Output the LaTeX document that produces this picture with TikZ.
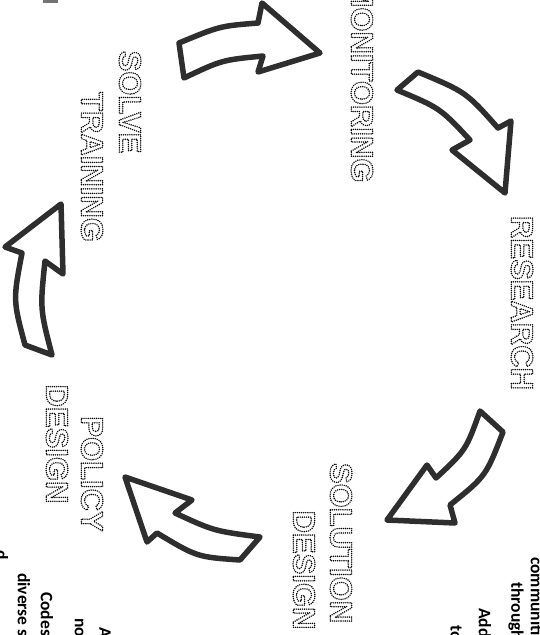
\documentclass[tikz,border=0pt]{standalone}
\usepackage{fontspec}
\setmainfont{Liberation Sans}
\newfontfamily\bodyfont{Carlito}
\newcommand\outlinetext[1]{\special{pdf:literal direct 1 Tr 1.6 w 1 J 1 j [0 2.1] 0 d}#1\special{pdf:literal direct 0 Tr 0.4 w 0 J 0 j [] 0 d}}
\tikzset{
  blockarrow/.style={draw=black!82, line width=5.5pt, line join=round, fill=white},
  stagetext/.style={rotate=-90, inner sep=0pt, font=\bfseries\fontsize{31}{31}\selectfont},
  bodytxt/.style={rotate=-90, anchor=west, inner sep=0pt, font=\bodyfont\bfseries\fontsize{17.5}{17.5}\selectfont}
}
\begin{document}
\begin{tikzpicture}[x=1pt,y=-1pt]
\useasboundingbox (0,0) rectangle (539,635);
\clip (0,0) rectangle (539,635);
\fill[black!55] (43,0) rectangle (58,3);
% cycle arrows
\draw[blockarrow] (179,43) .. controls (220,26) .. (258,23) -- (262,3) -- (320,53) -- (258,72) -- (263,56) .. controls (222,60) .. (184,78) -- cycle;
\draw[blockarrow] (418,72) .. controls (466,92) .. (498,128) -- (511,121) -- (505,193) -- (452,150) -- (470,140) .. controls (440,108) .. (397,90) -- cycle;
\draw[blockarrow] (503,432) .. controls (486,476) .. (450,505) -- (455,523) -- (387,520) -- (427,465) -- (436,478) .. controls (466,450) .. (480,411) -- cycle;
\draw[blockarrow] (260,537) .. controls (214,531) .. (175,513) -- (192,500) -- (125,477) -- (147,542) -- (157,533) .. controls (197,557) .. (240,560) -- cycle;
\draw[blockarrow] (61,204) -- (63,274) -- (45,261) .. controls (40,309) .. (52,355) -- (25,345) .. controls (13,300) .. (22,253) -- (5,247) -- cycle;
% stage labels
\node[stagetext] (monitoring) at (362,82) {\outlinetext{MONITORING}};
\node[stagetext] (research) at (522,303) {\outlinetext{RESEARCH}};
\node[stagetext] (solution) at (341,543) {\outlinetext{SOLUTION}};
\node[stagetext] (soldesign) at (304,570) {\outlinetext{DESIGN}};
\node[stagetext] (policy) at (92,474) {\outlinetext{POLICY}};
\node[stagetext] (poldesign) at (57,444) {\outlinetext{DESIGN}};
\node[stagetext] (solve) at (130,102) {\outlinetext{SOLVE}};
\node[stagetext] (training) at (92,167) {\outlinetext{TRAINING}};
% body text fragments
\node[bodytxt] (r1) at (537,557) {communities};
\node[bodytxt] (r2) at (516,582) {through};
\node[bodytxt] (r3) at (485,608) {Add};
\node[bodytxt] (r4) at (456,625) {to};
\node[bodytxt] (l1) at (105,627) {A};
\node[bodytxt] (l2) at (79,618) {no};
\node[bodytxt] (l3) at (47,592) {Codes};
\node[bodytxt] (l4) at (24,573) {diverse s};
\node[bodytxt] (l5) at (2,550) {d};
\end{tikzpicture}
\end{document}
